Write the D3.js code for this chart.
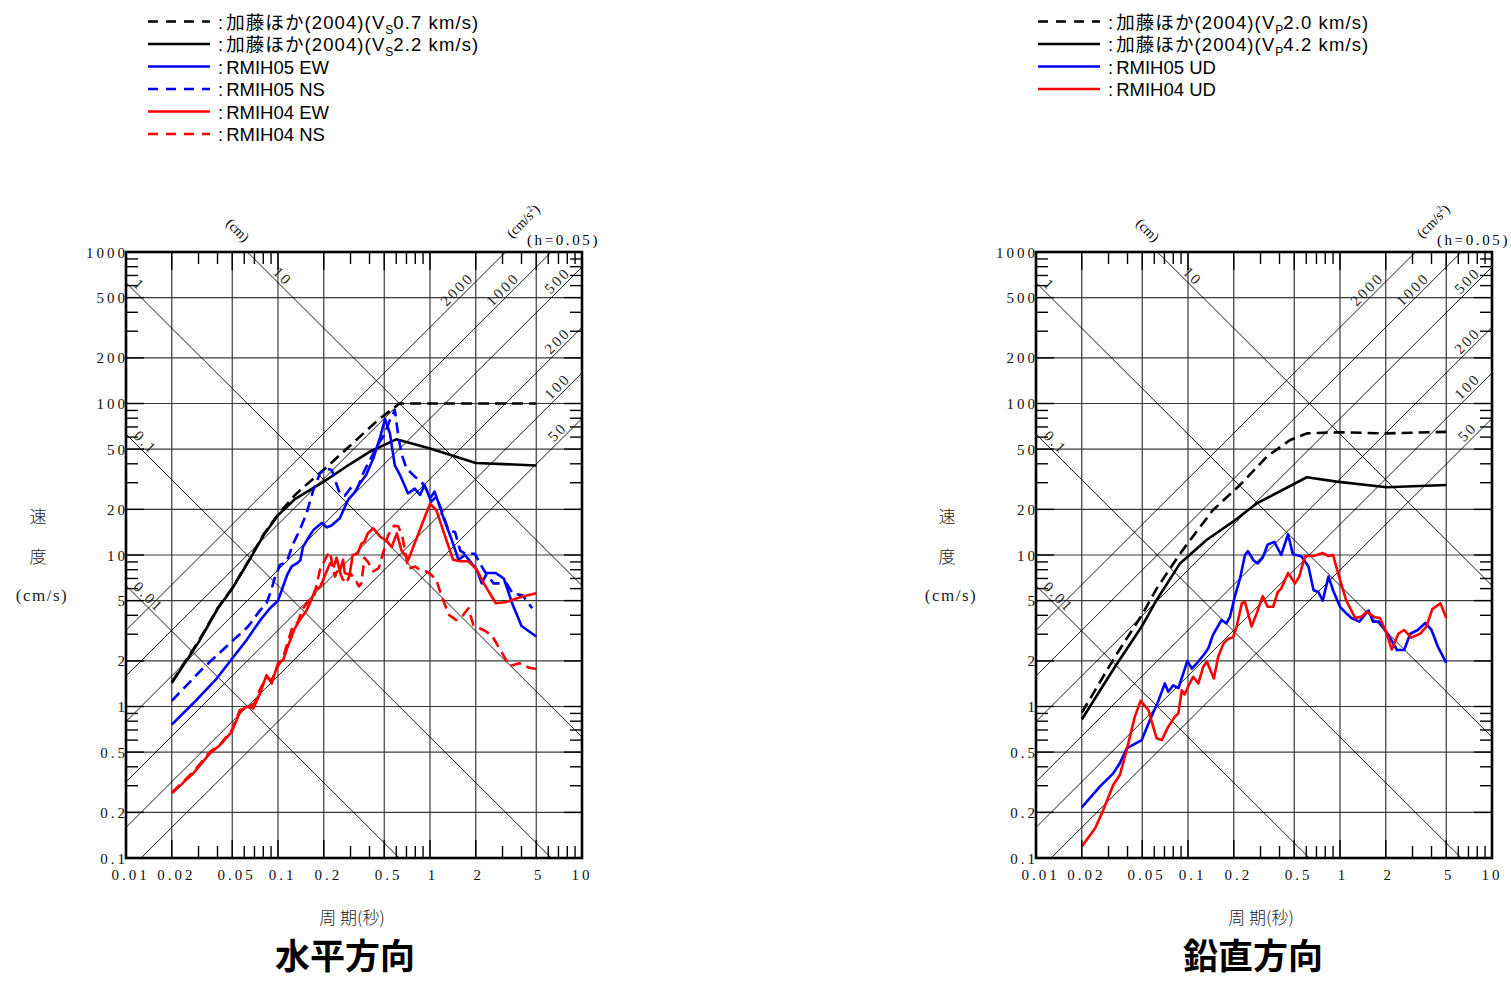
<!DOCTYPE html>
<html>
<head>
<meta charset="utf-8">
<script src="https://cdn.jsdelivr.net/npm/d3@7"></script>
<style>
  body { margin: 0; background: #fff; }
  svg { display: block; }
  .num { font-family: "Liberation Serif", "DejaVu Serif", serif; }
  .jp  { font-family: "Noto Sans CJK JP", sans-serif; }
  .leg { font-family: "Liberation Sans", "Noto Sans CJK JP", sans-serif; }
</style>
</head>
<body>
<svg id="chart" width="1511" height="981"></svg>
<script>
// ---- axis ticks and tripartite guide lines ----
const periodTicks = [0.01, 0.02, 0.05, 0.1, 0.2, 0.5, 1, 2, 5, 10];
const periodTickLabels = ["0.01", "0.02", "0.05", "0.1", "0.2", "0.5", "1", "2", "5", "10"];
const velocityTicks = [0.1, 0.2, 0.5, 1, 2, 5, 10, 20, 50, 100, 200, 500, 1000];
const velocityTickLabels = ["0.1", "0.2", "0.5", "1", "2", "5", "10", "20", "50", "100", "200", "500", "1000"];
const displacementLines = [0.01, 0.1, 1, 10];          // cm
const displacementLabels = ["0.01", "0.1", "1", "10"];
const accelerationLines = [50, 100, 200, 500, 1000, 2000]; // cm/s^2
const accelerationLabels = ["50", "100", "200", "500", "1000", "2000"];

// ---- horizontal component spectra: [period (s), pSv (cm/s)] ----
const katoVs07 = [[0.02,1.45],[0.03,2.7],[0.04,4.45],[0.05,6.05],[0.065,9.4],[0.08,13.6],[0.1,18.5],[0.13,25],[0.15,28.5],[0.2,36.5],[0.3,53],[0.45,77],[0.63,100],[5,100]];
const katoVs22 = [[0.02,1.43],[0.03,2.65],[0.04,4.4],[0.05,6.0],[0.065,9.3],[0.08,13.4],[0.1,18.3],[0.13,23.5],[0.2,30.5],[0.3,40],[0.4,48],[0.6,58],[1,50.5],[2,40.5],[5,39]];
const rmih05EW = [[0.02,0.76],[0.0277,1.05],[0.0395,1.53],[0.051,2.13],[0.0622,2.75],[0.0762,3.7],[0.0886,4.45],[0.1,5.0],[0.108,6.2],[0.115,7.4],[0.123,8.4],[0.133,8.8],[0.14,9.2],[0.146,11.3],[0.16,13.2],[0.171,14.6],[0.195,16.3],[0.209,15.2],[0.226,15.7],[0.255,17.5],[0.289,23.1],[0.32,26],[0.345,29.7],[0.38,33.7],[0.424,43.5],[0.47,60],[0.506,79],[0.545,63.5],[0.587,39],[0.635,33.7],[0.717,25.5],[0.794,27.4],[0.86,24.9],[0.92,29],[1.02,22.5],[1.1,24.3],[1.22,17.9],[1.39,12.6],[1.54,9.3],[1.7,10],[2.03,8.0],[2.19,6.5],[2.37,7.6],[2.71,7.6],[3.06,7.0],[3.47,4.8],[4.0,3.4],[5.0,2.9]];
const rmih05NS = [[0.02,1.09],[0.0321,1.79],[0.0496,2.68],[0.0636,3.37],[0.076,4.3],[0.084,4.8],[0.09,5.8],[0.095,7.0],[0.103,8.6],[0.114,9.0],[0.126,11.9],[0.139,14.6],[0.154,18.8],[0.171,26.9],[0.189,34.6],[0.203,37.3],[0.226,36.4],[0.237,31.3],[0.255,25.5],[0.275,24.6],[0.305,28.2],[0.33,26.9],[0.363,34.6],[0.401,42],[0.445,51.7],[0.5,62],[0.545,78],[0.587,90.6],[0.62,60],[0.652,46],[0.7,37.3],[0.794,32.9],[0.877,30.5],[0.95,26.9],[1.02,24.3],[1.07,26.2],[1.19,19.8],[1.32,14.6],[1.46,14.2],[1.58,10.7],[1.7,10.2],[1.97,10.2],[2.19,8.4],[2.37,7.4],[2.62,6.5],[3.19,6.5],[3.5,5.56],[4.06,5.43],[4.7,4.45]];
const rmih04EW = [[0.02,0.267],[0.0277,0.362],[0.0356,0.49],[0.0416,0.557],[0.0496,0.68],[0.0562,0.92],[0.0622,1.0],[0.0688,0.97],[0.0762,1.22],[0.084,1.61],[0.091,1.42],[0.1,1.93],[0.108,2.02],[0.117,2.55],[0.129,3.28],[0.139,3.72],[0.154,4.3],[0.165,5.0],[0.175,5.85],[0.19,6.2],[0.209,7.8],[0.22,8.8],[0.233,8.4],[0.243,9.6],[0.255,7.8],[0.268,9.3],[0.275,7.6],[0.296,7.4],[0.31,10],[0.334,10.2],[0.354,11.9],[0.37,12.2],[0.39,13.9],[0.424,15.0],[0.47,13.2],[0.52,12.4],[0.56,11.3],[0.605,13.9],[0.65,10.7],[0.72,9.3],[1.0,21.8],[1.1,19.8],[1.28,12.6],[1.42,9.3],[1.58,9.1],[1.79,9.1],[2.03,8.0],[2.3,6.3],[2.71,4.8],[3.19,4.9],[4.0,5.3],[5.0,5.6]];
const rmih04NS = [[0.02,0.27],[0.0277,0.37],[0.0356,0.5],[0.0416,0.56],[0.0496,0.7],[0.0562,0.95],[0.0622,0.98],[0.07,1.05],[0.0762,1.3],[0.084,1.55],[0.091,1.5],[0.1,1.85],[0.108,2.1],[0.117,2.75],[0.125,3.4],[0.135,3.6],[0.145,4.4],[0.16,5.0],[0.172,5.3],[0.189,8.0],[0.209,9.8],[0.22,10.5],[0.228,8.5],[0.237,7.2],[0.25,8.2],[0.265,7.0],[0.28,6.5],[0.3,7.5],[0.32,7.0],[0.34,6.2],[0.354,6.5],[0.37,9.6],[0.39,9.0],[0.424,7.8],[0.46,8.2],[0.49,10.2],[0.53,13.5],[0.58,15.6],[0.62,15.4],[0.66,13],[0.7,9.5],[0.72,8.1],[0.8,8.4],[0.86,7.96],[0.95,7.77],[1.02,7.4],[1.1,6.85],[1.22,5.0],[1.34,4.0],[1.49,3.72],[1.65,4.0],[1.79,4.45],[1.93,3.45],[2.24,3.2],[2.54,2.97],[2.9,2.36],[3.35,1.85],[3.88,1.93],[4.5,1.8],[5.0,1.77]];

// ---- vertical component spectra ----
const katoVp20 = [[0.02,0.91],[0.0331,2.13],[0.0496,4.0],[0.0622,6.0],[0.0886,10.2],[0.1,12],[0.146,19.8],[0.22,29],[0.33,44.6],[0.47,57.4],[0.605,63.5],[1.0,64.6],[2.0,63.5],[5.0,65]];
const katoVp42 = [[0.02,0.82],[0.0331,1.83],[0.0496,3.37],[0.0622,5.05],[0.0886,8.8],[0.133,12.6],[0.198,16.6],[0.283,21.9],[0.605,32.6],[0.95,30.5],[2.03,28],[5,29]];
const rmih05UD = [[0.02,0.216],[0.0263,0.296],[0.0322,0.362],[0.0356,0.422],[0.0395,0.53],[0.0496,0.6],[0.0562,0.815],[0.0636,1.08],[0.0704,1.42],[0.0742,1.25],[0.08,1.38],[0.0864,1.32],[0.093,1.65],[0.099,2.0],[0.106,1.78],[0.117,1.98],[0.129,2.24],[0.136,2.42],[0.146,2.97],[0.166,3.72],[0.179,3.54],[0.189,3.92],[0.203,5.3],[0.22,7.0],[0.237,10],[0.248,10.6],[0.27,9.2],[0.288,8.8],[0.31,9.6],[0.334,11.7],[0.37,12.2],[0.41,10],[0.455,13.7],[0.49,10.1],[0.556,9.8],[0.62,8.4],[0.67,5.85],[0.72,5.7],[0.77,5.0],[0.84,7.2],[0.9,5.85],[1.0,4.55],[1.1,4.12],[1.19,3.84],[1.34,3.63],[1.54,4.3],[1.65,3.63],[1.8,3.63],[2.08,2.97],[2.37,2.36],[2.64,2.36],[2.9,3.02],[3.25,3.2],[3.64,3.56],[4.0,3.2],[4.4,2.49],[5.0,1.94]];
const rmih04UD = [[0.02,0.119],[0.0245,0.157],[0.0277,0.207],[0.0322,0.303],[0.0356,0.353],[0.0395,0.516],[0.0447,0.857],[0.0488,1.09],[0.0548,0.95],[0.0622,0.617],[0.0672,0.6],[0.0742,0.736],[0.082,0.857],[0.0864,0.9],[0.091,1.28],[0.095,1.2],[0.1,1.35],[0.108,1.57],[0.117,1.42],[0.126,1.83],[0.133,1.98],[0.148,1.53],[0.158,2.13],[0.171,2.6],[0.184,2.8],[0.198,2.87],[0.209,3.37],[0.226,4.8],[0.237,4.9],[0.262,3.37],[0.283,4.12],[0.31,5.35],[0.334,4.55],[0.363,4.55],[0.39,5.7],[0.41,6.0],[0.455,7.6],[0.506,6.5],[0.54,7.2],[0.587,9.85],[0.67,9.85],[0.77,10.3],[0.84,9.85],[0.9,10],[1.0,6.85],[1.1,5.0],[1.26,3.84],[1.39,3.92],[1.49,4.23],[1.7,3.88],[1.83,3.84],[2.03,3.02],[2.19,2.38],[2.42,3.02],[2.64,3.2],[2.94,2.85],[3.36,3.02],[3.7,3.37],[4.05,4.39],[4.58,4.8],[5.0,3.84]];

// ---- legend texts ----
const horizontalLegend = [
  { pre: "加藤ほか(2004)(V", sub: "S", post: "0.7 km/s)" },
  { pre: "加藤ほか(2004)(V", sub: "S", post: "2.2 km/s)" },
  { pre: "RMIH05 EW" }, { pre: "RMIH05 NS" }, { pre: "RMIH04 EW" }, { pre: "RMIH04 NS" }
];
const verticalLegend = [
  { pre: "加藤ほか(2004)(V", sub: "P", post: "2.0 km/s)" },
  { pre: "加藤ほか(2004)(V", sub: "P", post: "4.2 km/s)" },
  { pre: "RMIH05 UD" }, { pre: "RMIH04 UD" }
];

const svg = d3.select("#chart");
const TWO_PI = 2 * Math.PI;

const styleBlackDash = { color: "#000", dash: true };
const styleBlack = { color: "#000", dash: false };
const styleBlue = { color: "#0000ff", dash: false };
const styleBlueDash = { color: "#0000ff", dash: true };
const styleRed = { color: "#ff0000", dash: false };
const styleRedDash = { color: "#ff0000", dash: true };

function drawPanel(left, series, legend, legendX, title, titleX, axisTitleX, yTitleX) {
  const W = 456, top = 252, bottom = 858, right = left + W;
  const x = d3.scaleLog().domain([0.01, 10]).range([left, right]);
  const y = d3.scaleLog().domain([0.1, 1000]).range([bottom, top]);

  const clipId = "plotclip" + left;
  svg.append("clipPath").attr("id", clipId)
    .append("rect").attr("x", left).attr("y", top).attr("width", W).attr("height", bottom - top);

  const g = svg.append("g");
  const plot = g.append("g").attr("clip-path", `url(#${clipId})`);

  // grid
  plot.selectAll(".vg").data(periodTicks.slice(1, -1)).enter().append("line")
    .attr("x1", d => x(d)).attr("x2", d => x(d)).attr("y1", top).attr("y2", bottom)
    .attr("stroke", "#3a3a3a").attr("stroke-width", 1.2);
  plot.selectAll(".hg").data(velocityTicks.slice(1, -1)).enter().append("line")
    .attr("x1", left).attr("x2", right).attr("y1", d => y(d)).attr("y2", d => y(d))
    .attr("stroke", "#3a3a3a").attr("stroke-width", 1.2);

  // constant displacement lines (descending) and constant acceleration lines (ascending)
  const T0 = 0.005, T1 = 20;
  plot.selectAll(".dl").data(displacementLines).enter().append("line")
    .attr("x1", x(T0)).attr("y1", d => y(TWO_PI * d / T0))
    .attr("x2", x(T1)).attr("y2", d => y(TWO_PI * d / T1))
    .attr("stroke", "#000").attr("stroke-width", 0.9);
  plot.selectAll(".al").data(accelerationLines).enter().append("line")
    .attr("x1", x(T0)).attr("y1", d => y(d * T0 / TWO_PI))
    .attr("x2", x(T1)).attr("y2", d => y(d * T1 / TWO_PI))
    .attr("stroke", "#000").attr("stroke-width", 0.9);

  // ticks on all four sides
  const minorMult = [3, 4, 6, 7, 8, 9];
  const tickG = g.append("g").attr("stroke", "#000").attr("stroke-width", 1.4);
  periodTicks.slice(1, -1).forEach(t => {
    tickG.append("line").attr("x1", x(t)).attr("x2", x(t)).attr("y1", top).attr("y2", top + 18);
    tickG.append("line").attr("x1", x(t)).attr("x2", x(t)).attr("y1", bottom).attr("y2", bottom - 18);
  });
  [0.01, 0.1, 1].forEach(dec => minorMult.forEach(m => {
    const t = dec * m;
    tickG.append("line").attr("x1", x(t)).attr("x2", x(t)).attr("y1", top).attr("y2", top + 12);
    tickG.append("line").attr("x1", x(t)).attr("x2", x(t)).attr("y1", bottom).attr("y2", bottom - 12);
  }));
  velocityTicks.slice(1, -1).forEach(v => {
    tickG.append("line").attr("y1", y(v)).attr("y2", y(v)).attr("x1", left).attr("x2", left + 18);
    tickG.append("line").attr("y1", y(v)).attr("y2", y(v)).attr("x1", right).attr("x2", right - 18);
  });
  [0.1, 1, 10, 100].forEach(dec => minorMult.forEach(m => {
    const v = dec * m;
    tickG.append("line").attr("y1", y(v)).attr("y2", y(v)).attr("x1", left).attr("x2", left + 12);
    tickG.append("line").attr("y1", y(v)).attr("y2", y(v)).attr("x1", right).attr("x2", right - 12);
  }));

  // guide line labels
  const lab = g.append("g").attr("class", "num").attr("font-size", 15)
    .attr("letter-spacing", 2.5).attr("fill", "#222").attr("text-anchor", "middle");
  const n = 8 / Math.SQRT2;
  displacementLines.forEach((d, i) => {
    const txt = displacementLabels[i];
    const yLeft = y(TWO_PI * d / 0.01);
    let px;
    if (yLeft >= top) px = left + 5 + 3 * txt.length;
    else px = x(TWO_PI * d / 1000) + 30;
    const py = y(TWO_PI * d / x.invert(px));
    lab.append("text").attr("transform", `translate(${px + n},${py - n}) rotate(45)`)
      .attr("dy", "0.35em").text(txt);
  });
  accelerationLines.forEach((a, i) => {
    const txt = accelerationLabels[i];
    const yRight = y(a * 10 / TWO_PI);
    let px;
    if (yRight >= top) px = right - 19;
    else px = x(1000 * TWO_PI / a) - 43;
    const py = y(a * x.invert(px) / TWO_PI);
    lab.append("text").attr("transform", `translate(${px - n},${py - n}) rotate(-45)`)
      .attr("dy", "0.35em").text(txt);
  });

  // unit labels along the top
  g.append("text").attr("class", "num").attr("font-size", 14).attr("text-anchor", "middle")
    .attr("transform", `translate(${left + 112},${230}) rotate(45)`).attr("dy", "0.35em").text("(cm)");
  const acc = g.append("text").attr("class", "num").attr("font-size", 14).attr("text-anchor", "middle")
    .attr("transform", `translate(${left + 397},${221}) rotate(-45)`).attr("dy", "0.35em");
  acc.append("tspan").text("(cm/s");
  acc.append("tspan").attr("font-size", 9).attr("dy", -6).text("2");
  acc.append("tspan").attr("dy", 6).text(")");
  g.append("text").attr("class", "num").attr("font-size", 15).attr("letter-spacing", 2.6)
    .attr("x", left + 401).attr("y", 245).text("(h=0.05)");

  // spectra
  const line = d3.line().x(d => x(d[0])).y(d => y(d[1]));
  series.forEach(s => {
    plot.append("path").datum(s.data).attr("d", line)
      .attr("fill", "none").attr("stroke", s.style.color).attr("stroke-width", 2.6)
      .attr("stroke-linejoin", "round")
      .attr("stroke-dasharray", s.style.dash ? "11,6" : null);
  });

  // frame
  g.append("rect").attr("x", left).attr("y", top).attr("width", W).attr("height", bottom - top)
    .attr("fill", "none").attr("stroke", "#000").attr("stroke-width", 2.6);

  // tick labels
  const tl = g.append("g").attr("class", "num").attr("font-size", 15).attr("letter-spacing", 3).attr("fill", "#111");
  periodTicks.forEach((t, i) => {
    const s = periodTickLabels[i];
    const shift = s === "10" ? 0 : (s.length >= 3 ? 4.5 : 3);
    tl.append("text").attr("x", x(t) + shift).attr("y", 880).attr("text-anchor", "middle").text(s);
  });
  velocityTicks.forEach((v, i) => {
    tl.append("text").attr("x", left + 2).attr("y", y(v) + 5.5).attr("text-anchor", "end").text(velocityTickLabels[i]);
  });

  // axis titles
  const yt = g.append("g").attr("text-anchor", "middle").attr("font-size", 17).attr("fill", "#222");
  yt.append("text").attr("class", "jp").attr("font-weight", 300).attr("x", yTitleX).attr("y", 523).text("速");
  yt.append("text").attr("class", "jp").attr("font-weight", 300).attr("x", yTitleX).attr("y", 563).text("度");
  yt.append("text").attr("class", "num").attr("letter-spacing", 1.5).attr("x", yTitleX + 4).attr("y", 601).text("(cm/s)");
  g.append("text").attr("class", "jp").attr("font-weight", 300).attr("font-size", 17).attr("fill", "#222")
    .attr("text-anchor", "middle").attr("x", axisTitleX).attr("y", 924).text("周 期(秒)");
  g.append("text").attr("class", "jp").attr("font-weight", 700).attr("font-size", 35)
    .attr("text-anchor", "middle").attr("x", titleX).attr("y", 969).text(title);

  // legend
  legend.forEach((e, i) => {
    const base = 28.5 + i * 22.5;
    const st = series[i].style;
    g.append("line").attr("x1", legendX).attr("x2", legendX + 62).attr("y1", base - 7).attr("y2", base - 7)
      .attr("stroke", st.color).attr("stroke-width", 2.6)
      .attr("stroke-dasharray", st.dash ? "10,8" : null);
    const t = g.append("text").attr("class", "leg").attr("font-size", 18.5).attr("x", legendX + 70).attr("y", base);
    t.append("tspan").text(":");
    const main = t.append("tspan").attr("dx", 3).text(e.pre);
    if (e.sub) {
      main.attr("letter-spacing", 1.1);
      t.append("tspan").attr("font-size", 12).attr("dy", 5).text(e.sub);
      t.append("tspan").attr("dy", -5).attr("letter-spacing", 1.1).text(e.post);
    }
  });
}

drawPanel(126,
  [
    { data: katoVs07, style: styleBlackDash },
    { data: katoVs22, style: styleBlack },
    { data: rmih05EW, style: styleBlue },
    { data: rmih05NS, style: styleBlueDash },
    { data: rmih04EW, style: styleRed },
    { data: rmih04NS, style: styleRedDash }
  ],
  horizontalLegend, 148, "水平方向", 345, 352, 38);

drawPanel(1036,
  [
    { data: katoVp20, style: styleBlackDash },
    { data: katoVp42, style: styleBlack },
    { data: rmih05UD, style: styleBlue },
    { data: rmih04UD, style: styleRed }
  ],
  verticalLegend, 1038, "鉛直方向", 1253, 1261, 947);
</script>
</body>
</html>
